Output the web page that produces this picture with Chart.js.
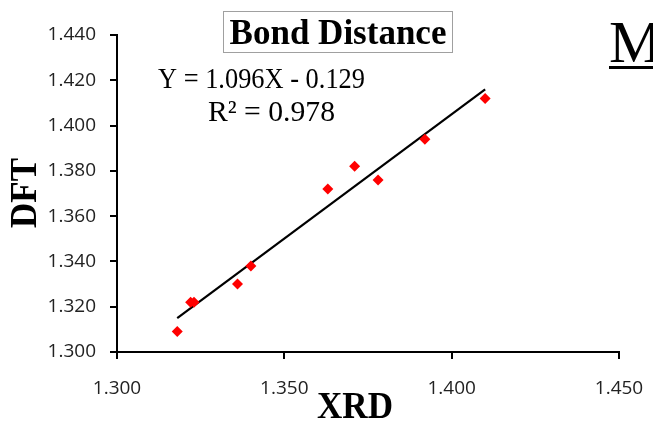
<!DOCTYPE html>
<html>
<head>
<meta charset="utf-8">
<script src="https://cdn.jsdelivr.net/npm/chart.js@4"></script>
<style>
  html, body { margin: 0; padding: 0; background: #fff; }
  #wrap { width: 653px; height: 424px; position: relative; }
</style>
</head>
<body>
<div id="wrap"><canvas id="bondChart" width="653" height="424"></canvas></div>
<script>
// bond distances, XRD vs DFT
const xrd = [1.318, 1.322, 1.323, 1.336, 1.340, 1.363, 1.371, 1.378, 1.392, 1.410];
const dft = [1.309, 1.322, 1.322, 1.330, 1.338, 1.372, 1.382, 1.376, 1.394, 1.412];

// trend line ends
const trendX = [1.318, 1.410];
const trendY = [1.315, 1.416];

const xTicks = [1.300, 1.350, 1.400, 1.450];
const yTicks = [1.300, 1.320, 1.340, 1.360, 1.380, 1.400, 1.420, 1.440];

const titleText = "Bond Distance";
const eqText = "Y = 1.096X - 0.129";
const r2Text = "R\u00B2 = 0.978";
const xTitle = "XRD";
const yTitle = "DFT";

const serif = "'Liberation Serif', 'Times New Roman', serif";
const sans = "'Open Sans', 'Liberation Sans', sans-serif";

const labelsPlugin = {
  id: "labels",
  afterDraw(chart) {
    const ctx = chart.ctx;
    ctx.save();

    // title with box
    ctx.strokeStyle = "#a0a0a0";
    ctx.lineWidth = 1;
    ctx.strokeRect(223.5, 11.5, 229, 41);
    ctx.fillStyle = "#000";
    ctx.font = "bold 35px " + serif;
    ctx.textAlign = "center";
    ctx.textBaseline = "alphabetic";
    ctx.fillText(titleText, 338, 44, 222);

    // equation
    ctx.font = "30px " + serif;
    ctx.textAlign = "left";
    ctx.fillText(eqText, 158, 88, 207);
    ctx.fillText(r2Text, 208, 121, 127);

    // axis titles
    ctx.font = "bold 38px " + serif;
    ctx.textAlign = "center";
    ctx.fillText(xTitle, 355, 418, 76);
    ctx.save();
    ctx.translate(36, 193);
    ctx.rotate(-Math.PI / 2);
    ctx.fillText(yTitle, 0, 0, 70);
    ctx.restore();

    // cut-off letter at the right edge
    ctx.font = "60px " + serif;
    ctx.textAlign = "left";
    ctx.fillText("M", 609, 62);
    ctx.fillRect(609, 66, 50, 3);

    ctx.restore();
  }
};

new Chart(document.getElementById("bondChart"), {
  type: "scatter",
  data: {
    datasets: [
      {
        label: "points",
        data: xrd.map((x, i) => ({ x: x, y: dft[i] })),
        pointStyle: "rectRot",
        pointRadius: 5.5,
        pointBackgroundColor: "#ff0000",
        pointBorderColor: "#ff0000",
        pointBorderWidth: 0,
        order: 1
      },
      {
        label: "trend",
        type: "line",
        data: trendX.map((x, i) => ({ x: x, y: trendY[i] })),
        borderColor: "#000",
        borderWidth: 2.2,
        pointRadius: 0,
        fill: false,
        order: 2
      }
    ]
  },
  options: {
    responsive: false,
    animation: false,
    devicePixelRatio: 1,
    layout: { padding: { top: 35, right: 34, left: 0, bottom: 0 } },
    plugins: {
      legend: { display: false },
      tooltip: { enabled: false }
    },
    scales: {
      x: {
        type: "linear",
        min: 1.3,
        max: 1.45,
        afterBuildTicks: (scale) => { scale.ticks = xTicks.map(v => ({ value: v })); },
        afterFit: (scale) => {
          scale.height = 72;
          scale.paddingLeft = 0;
          scale.paddingRight = 0;
        },
        ticks: {
          callback: (v) => v.toFixed(3),
          color: "#222",
          font: { family: sans, size: 19 },
          padding: 18,
          maxRotation: 0
        },
        grid: { drawOnChartArea: false, drawTicks: true, tickLength: 7, color: "#000", lineWidth: 2 },
        border: { color: "#000", width: 2 }
      },
      y: {
        type: "linear",
        min: 1.3,
        max: 1.44,
        afterBuildTicks: (scale) => { scale.ticks = yTicks.map(v => ({ value: v })); },
        afterFit: (scale) => {
          scale.width = 117;
          scale.paddingTop = 0;
          scale.paddingBottom = 0;
        },
        ticks: {
          callback: (v) => v.toFixed(3),
          color: "#222",
          font: { family: sans, size: 19 },
          padding: 14
        },
        grid: { drawOnChartArea: false, drawTicks: true, tickLength: 7, color: "#000", lineWidth: 2 },
        border: { color: "#000", width: 2 }
      }
    }
  },
  plugins: [labelsPlugin]
});
</script>
</body>
</html>
